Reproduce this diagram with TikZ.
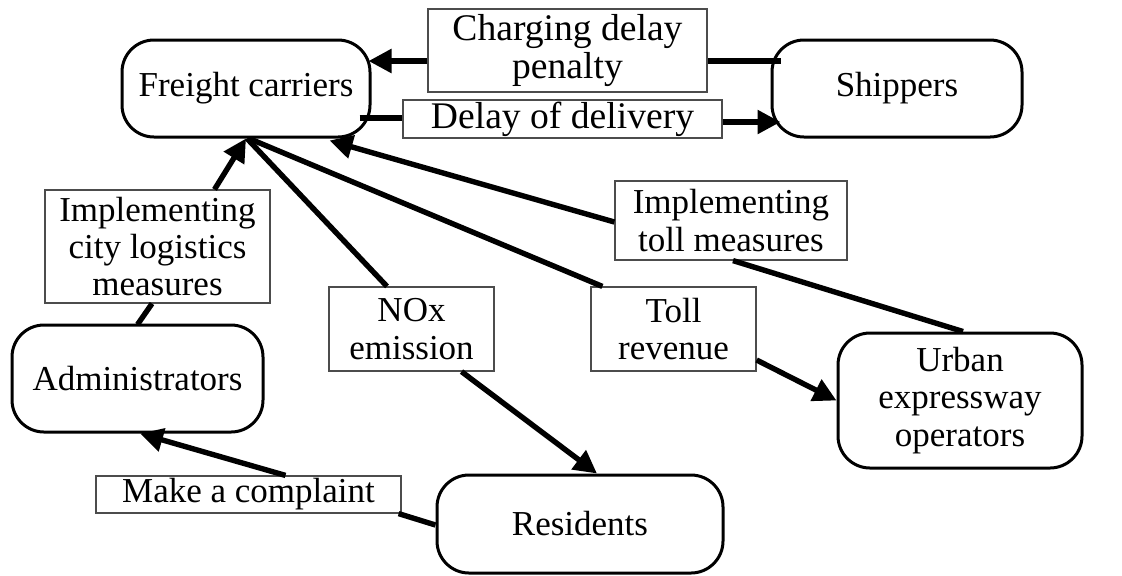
\documentclass[tikz,border=0pt]{standalone}
\usepackage{fontspec}
\setmainfont{Liberation Serif}
\usetikzlibrary{arrows.meta}
\newcommand\lblfont{\fontsize{17.5}{18.6}\selectfont}
\newcommand\bigfont{\fontsize{18.8}{19.2}\selectfont}
\begin{document}
\begin{tikzpicture}[x=0.5pt,y=-0.5pt,
  actor/.style={draw=black, line width=1.5pt, rounded corners=16pt, align=center, font=\lblfont, inner sep=0pt},
  lbl/.style={draw=black!70, line width=0.6pt, align=center, font=\lblfont, inner sep=0pt},
  con/.style={line width=2.7pt},
  arr/.style={con, -{Triangle[length=11.5pt,width=11.5pt]}}]
\useasboundingbox (0,0) rectangle (1122,575);
% actors
\node[actor, minimum width=124pt, minimum height=48.5pt] (fc) at (246,88.5) {Freight carriers};
\node[actor, minimum width=125pt, minimum height=48.5pt] (sh) at (897,88.5) {Shippers};
\node[actor, minimum width=125.5pt, minimum height=53.5pt] (adm) at (137.5,378.5) {Administrators};
\node[actor, minimum width=143pt, minimum height=49pt] (res) at (580,524) {Residents};
\node[actor, minimum width=122pt, minimum height=67.5pt] (ue) at (960,400.5) {Urban\\expressway\\operators};
% labels
\node[lbl, font=\bigfont, minimum width=139.5pt, minimum height=41.5pt] (cdp) at (567.5,50.5) {Charging delay\\penalty};
\node[lbl, font=\bigfont, minimum width=159.5pt, minimum height=19pt] (dd) at (562.5,119) {Delay of delivery};
\node[lbl, minimum width=112.5pt, minimum height=56.5pt] (clm) at (157.5,246.5) {Implementing\\city logistics\\measures};
\node[lbl, minimum width=152.5pt, minimum height=18.5pt] (mac) at (248.5,494.5) {Make a complaint};
\node[lbl, minimum width=82.5pt, minimum height=42pt] (nox) at (411.5,329) {NOx\\emission};
\node[lbl, minimum width=82.5pt, minimum height=42pt] (tr) at (673.5,329) {Toll\\revenue};
\node[lbl, minimum width=116pt, minimum height=39.5pt] (tm) at (731,220.5) {Implementing\\toll measures};
% connectors
\draw[con] ([shift={(10,-27.5)}]sh.west) -- ([shift={(0,10.5)}]cdp.east);
\draw[arr] ([shift={(0,10.5)}]cdp.west) -- ([shift={(-3,-27.5)}]fc.east);
\draw[con] ([shift={(-12,29.5)}]fc.east) -- ([shift={(0,-1)}]dd.west);
\draw[arr] ([shift={(0,3)}]dd.east) -- ([shift={(10,33.5)}]sh.west);
\draw[con] ([shift={(0,1)}]adm.north) -- ([shift={(-5.5,0)}]clm.south);
\draw[arr] ([shift={(57,0)}]clm.north) -- (fc.south);
\draw[con] ([shift={(0,1)}]res.west) -- ([shift={(-3,0)}]mac.south east);
\draw[arr] ([shift={(37,0)}]mac.north) -- ([shift={(2.5,0)}]adm.south);
\draw[con] ([shift={(1,0)}]fc.south) -- ([shift={(-24.5,0)}]nox.north);
\draw[arr] ([shift={(50,0)}]nox.south) -- ([shift={(17,0)}]res.north);
\draw[con] ([shift={(3,0)}]fc.south) -- ([shift={(12,0)}]tr.north west);
\draw[arr] ([shift={(0,31)}]tr.east) -- (ue.west);
\draw[con] ([shift={(3,0)}]ue.north) -- ([shift={(2,0)}]tm.south);
\draw[arr] ([shift={(0,1.5)}]tm.west) -- ([shift={(-42,2)}]fc.south east);
\end{tikzpicture}
\end{document}
